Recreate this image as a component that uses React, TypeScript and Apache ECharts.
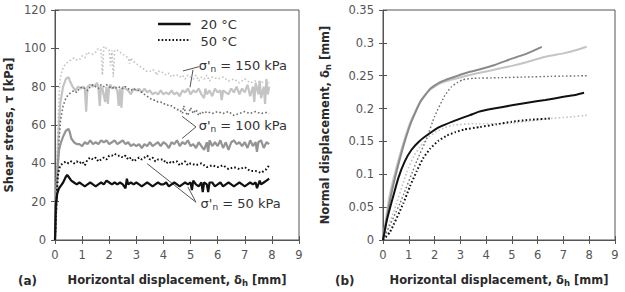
import React, { useEffect, useRef } from "react";
import * as echarts from "echarts";

// ---- (a) shear stress vs horizontal displacement: [δh mm, τ kPa] ----
const tau150_20: number[][] = [
  [0, 0], [0.05, 20], [0.1, 45], [0.15, 62], [0.2, 72], [0.3, 80], [0.4, 84], [0.5, 85], [0.55, 83], [0.65, 80],
  [0.75, 78], [0.85, 80], [0.95, 79], [1.05, 80], [1.1, 79], [1.15, 67], [1.2, 80], [1.3, 81], [1.4, 80], [1.5, 81],
  [1.55, 82], [1.6, 80], [1.65, 70], [1.7, 80], [1.75, 79], [1.85, 72], [1.9, 80], [1.95, 71], [2.0, 80], [2.05, 81],
  [2.1, 79], [2.2, 80], [2.3, 78], [2.35, 70], [2.4, 79], [2.45, 69], [2.5, 80], [2.6, 79], [2.7, 78], [2.8, 76],
  [2.9, 79], [3.0, 78], [3.1, 79], [3.2, 77], [3.3, 79], [3.4, 77], [3.5, 78], [3.6, 76], [3.7, 77], [3.8, 76],
  [3.9, 78], [4.0, 76], [4.1, 77], [4.2, 76], [4.3, 78], [4.4, 76], [4.5, 77], [4.6, 75], [4.7, 78], [4.8, 77],
  [4.9, 79], [5.0, 76], [5.1, 78], [5.2, 77], [5.3, 79], [5.4, 76], [5.5, 74], [5.55, 79], [5.6, 76], [5.7, 78],
  [5.8, 75], [5.9, 79], [6.0, 77], [6.1, 78], [6.15, 73], [6.2, 78], [6.3, 77], [6.4, 76], [6.5, 79], [6.6, 77],
  [6.7, 80], [6.8, 76], [6.9, 79], [7.0, 77], [7.1, 81], [7.2, 75], [7.3, 80], [7.35, 72], [7.4, 82], [7.5, 76],
  [7.55, 83], [7.6, 74], [7.7, 80], [7.75, 71], [7.8, 84], [7.85, 76], [7.9, 80],
];
const tau150_50: number[][] = [
  [0, 0], [0.05, 30], [0.1, 55], [0.15, 75], [0.2, 85], [0.3, 90], [0.4, 92], [0.5, 93], [0.6, 94], [0.7, 95],
  [0.8, 94], [0.9, 94], [1.0, 96], [1.1, 95], [1.2, 98], [1.3, 97], [1.4, 97], [1.5, 98], [1.6, 100], [1.7, 99],
  [1.75, 86], [1.8, 101], [1.9, 100], [2.0, 99], [2.05, 91], [2.1, 99], [2.15, 85], [2.2, 99], [2.3, 99], [2.4, 98],
  [2.5, 97], [2.6, 96], [2.7, 95], [2.75, 92], [2.8, 95], [2.9, 93], [3.0, 92], [3.1, 91], [3.2, 90], [3.3, 89],
  [3.4, 88], [3.5, 88], [3.6, 89], [3.7, 88], [3.75, 86], [3.8, 88], [3.9, 88], [4.0, 87], [4.1, 86], [4.2, 87],
  [4.3, 85], [4.4, 86], [4.5, 86], [4.6, 85], [4.7, 86], [4.8, 84], [4.9, 86], [5.0, 85], [5.1, 84], [5.2, 86],
  [5.3, 83], [5.4, 85], [5.5, 84], [5.6, 86], [5.7, 83], [5.8, 85], [6.0, 84], [6.2, 85], [6.4, 83], [6.6, 84],
  [6.8, 82], [7.0, 84], [7.2, 82], [7.4, 83], [7.6, 82], [7.8, 83], [7.9, 82],
];
const tau100_50: number[][] = [
  [0, 0], [0.05, 15], [0.1, 35], [0.15, 52], [0.2, 62], [0.3, 70], [0.4, 74], [0.5, 76], [0.6, 77], [0.7, 78],
  [0.8, 77], [0.9, 79], [1.0, 80], [1.1, 79], [1.2, 78], [1.3, 80], [1.4, 81], [1.5, 80], [1.6, 79], [1.7, 81],
  [1.8, 80], [1.9, 81], [2.0, 80], [2.1, 79], [2.2, 80], [2.3, 79], [2.4, 80], [2.5, 79], [2.6, 80], [2.7, 79],
  [2.8, 78], [2.9, 79], [3.0, 78], [3.1, 78], [3.2, 77], [3.3, 76], [3.4, 75], [3.5, 74], [3.6, 73], [3.7, 73],
  [3.8, 72], [3.9, 72], [4.0, 71], [4.1, 71], [4.2, 70], [4.3, 70], [4.4, 69], [4.5, 68], [4.6, 68], [4.7, 66],
  [4.75, 70], [4.8, 67], [4.9, 65], [5.0, 69], [5.1, 66], [5.2, 68], [5.3, 65], [5.4, 67], [5.5, 66], [5.6, 67],
  [5.8, 66], [6.0, 67], [6.2, 66], [6.4, 67], [6.6, 65], [6.8, 66], [7.0, 67], [7.2, 66], [7.4, 67], [7.6, 66],
  [7.8, 66.5], [7.9, 66],
];
const tau100_20: number[][] = [
  [0, 0], [0.05, 20], [0.1, 38], [0.15, 47], [0.2, 50], [0.3, 54], [0.4, 57], [0.5, 58], [0.55, 56], [0.6, 53],
  [0.7, 51], [0.8, 50], [0.9, 50], [1.0, 49], [1.1, 51], [1.2, 50], [1.3, 52], [1.4, 50], [1.5, 51], [1.6, 50],
  [1.7, 52], [1.8, 51], [1.9, 52], [2.0, 50], [2.1, 51], [2.2, 52], [2.3, 50], [2.4, 51], [2.5, 52], [2.6, 50],
  [2.7, 51], [2.8, 49], [2.9, 50], [3.0, 49], [3.1, 50], [3.2, 48], [3.3, 50], [3.4, 49], [3.5, 51], [3.6, 49],
  [3.7, 50], [3.8, 51], [3.9, 49], [4.0, 51], [4.1, 50], [4.2, 48], [4.3, 51], [4.4, 50], [4.5, 52], [4.6, 49],
  [4.7, 51], [4.8, 50], [4.9, 52], [5.0, 49], [5.1, 50], [5.2, 48], [5.3, 51], [5.4, 49], [5.5, 47], [5.6, 51],
  [5.65, 46], [5.7, 52], [5.8, 49], [5.9, 51], [6.0, 49], [6.1, 52], [6.2, 48], [6.3, 51], [6.4, 47], [6.5, 51],
  [6.6, 52], [6.7, 50], [6.8, 51], [6.9, 49], [7.0, 51], [7.1, 48], [7.2, 52], [7.3, 49], [7.4, 51], [7.45, 46],
  [7.5, 51], [7.6, 52], [7.7, 48], [7.8, 51], [7.9, 50],
];
const tau50_50: number[][] = [
  [0, 0], [0.05, 20], [0.1, 33], [0.15, 37], [0.2, 39], [0.3, 40], [0.4, 41], [0.5, 40], [0.6, 41], [0.7, 40],
  [0.8, 41], [0.9, 40], [1.0, 41], [1.1, 39], [1.2, 42], [1.3, 43], [1.4, 42], [1.5, 43], [1.6, 41], [1.7, 42],
  [1.8, 43], [1.9, 42], [2.0, 44], [2.1, 44], [2.2, 45], [2.3, 44], [2.4, 44], [2.5, 43], [2.6, 44], [2.7, 42],
  [2.8, 43], [2.9, 41], [3.0, 42], [3.1, 43], [3.2, 42], [3.3, 43], [3.4, 44], [3.5, 42], [3.6, 43], [3.7, 41],
  [3.8, 42], [3.9, 42], [4.0, 42], [4.1, 40], [4.2, 41], [4.3, 40], [4.4, 41], [4.5, 41], [4.6, 39], [4.7, 40],
  [4.8, 41], [4.9, 39], [5.0, 40], [5.2, 39], [5.4, 40], [5.6, 38], [5.8, 39], [6.0, 38], [6.2, 39], [6.4, 37],
  [6.6, 38], [6.8, 37], [7.0, 38], [7.2, 36], [7.4, 36], [7.6, 35], [7.7, 36], [7.8, 37], [7.9, 39],
];
const tau50_20: number[][] = [
  [0, 0], [0.03, 18], [0.08, 24], [0.15, 27], [0.2, 28], [0.3, 30], [0.4, 33], [0.45, 34], [0.5, 33], [0.6, 31],
  [0.7, 30], [0.8, 29], [0.9, 30], [1.0, 29], [1.1, 28], [1.2, 29], [1.3, 30], [1.4, 29], [1.5, 28], [1.6, 29],
  [1.7, 30], [1.8, 29], [1.9, 31], [2.0, 30], [2.1, 29], [2.2, 30], [2.3, 29], [2.4, 30], [2.5, 29], [2.6, 27],
  [2.65, 32], [2.7, 29], [2.8, 30], [2.9, 29], [3.0, 30], [3.1, 29], [3.2, 28], [3.3, 29], [3.4, 30], [3.5, 29],
  [3.6, 28], [3.7, 29], [3.8, 30], [3.9, 29], [4.0, 29], [4.1, 30], [4.2, 28], [4.3, 29], [4.4, 30], [4.5, 29],
  [4.6, 28], [4.7, 29], [4.8, 30], [4.9, 29], [5.0, 30], [5.05, 26], [5.1, 31], [5.2, 29], [5.3, 28], [5.4, 30],
  [5.45, 25], [5.5, 30], [5.6, 29], [5.65, 25], [5.7, 30], [5.8, 30], [5.9, 28], [6.0, 29], [6.1, 30], [6.2, 28],
  [6.3, 29], [6.4, 30], [6.5, 29], [6.6, 28], [6.7, 29], [6.8, 30], [6.9, 29], [7.0, 28], [7.1, 29], [7.2, 30],
  [7.3, 29], [7.4, 30], [7.45, 27], [7.55, 31], [7.6, 29], [7.7, 30], [7.8, 31], [7.9, 32],
];

// ---- (b) normal displacement vs horizontal displacement: [δh mm, δn mm] ----
const dn150_20: number[][] = [
  [0, 0], [0.25, 0.066], [0.66, 0.13], [1.05, 0.178], [1.44, 0.21], [1.83, 0.229], [2.2, 0.238], [2.67, 0.244],
  [3.37, 0.251], [3.7, 0.254], [4.3, 0.259], [5.0, 0.265], [5.6, 0.271], [6.3, 0.279], [7.0, 0.284], [7.5, 0.289],
  [7.9, 0.294],
];
const dn100_20: number[][] = [
  [0, 0], [0.3, 0.066], [0.7, 0.13], [1.08, 0.178], [1.46, 0.211], [1.83, 0.23], [2.2, 0.24], [2.67, 0.247],
  [3.37, 0.256], [3.7, 0.259], [4.3, 0.266], [5.0, 0.276], [5.6, 0.284], [6.16, 0.294],
];
const dn50_20: number[][] = [
  [0, 0], [0.15, 0.03], [0.35, 0.06], [0.6, 0.095], [0.85, 0.12], [1.1, 0.137], [1.4, 0.15], [1.8, 0.162],
  [2.2, 0.172], [2.74, 0.181], [3.37, 0.19], [3.7, 0.195], [4.3, 0.2], [5.0, 0.205], [5.6, 0.209], [6.3, 0.213],
  [7.0, 0.218], [7.5, 0.221], [7.8, 0.224],
];
const dn150_50: number[][] = [
  [0, 0], [0.4, 0.041], [0.92, 0.103], [1.2, 0.128], [1.44, 0.142], [1.75, 0.156], [2.08, 0.165], [2.4, 0.171],
  [2.74, 0.175], [3.5, 0.177], [4.5, 0.177], [5.0, 0.178], [5.7, 0.181], [6.5, 0.185], [7.2, 0.187], [7.95, 0.19],
];
const dn100_50: number[][] = [
  [0, 0], [0.66, 0.056], [1.31, 0.12], [1.7, 0.155], [2.0, 0.188], [2.4, 0.22], [2.65, 0.233], [2.9, 0.24],
  [3.1, 0.244], [3.5, 0.246], [4.5, 0.247], [5.5, 0.248], [6.5, 0.249], [7.9, 0.25],
];
const dn50_50: number[][] = [
  [0, 0], [0.27, 0.012], [0.79, 0.056], [1.05, 0.082], [1.31, 0.105], [1.55, 0.124], [1.83, 0.139], [2.15, 0.151],
  [2.48, 0.159], [2.8, 0.164], [3.13, 0.168], [3.76, 0.172], [4.4, 0.176], [5.0, 0.18], [5.7, 0.183], [6.47, 0.185],
];

// axis ranges and labels
const xTicks = [0, 9, 1];
const tauTicks = [0, 120, 20];
const dnTicks = [0, 0.35, 0.05];
const legendLabels = ["20 °C", "50 °C"];
const stressLabels = ["150", "100", "50"];

const FONT = "DejaVu Sans";
const AXIS = "#555";
const LABEL = "#555";

const C150 = "#c4c4c4";
const C100 = "#949494";
const C100D = "#6e6e6e";
const C50 = "#111";

function titleRich(size: number) {
  return {
    t: { fontFamily: FONT, fontWeight: "bold", fontSize: size, color: "#2a2a2a" },
    s: { fontFamily: FONT, fontWeight: "bold", fontSize: size - 3, color: "#2a2a2a", padding: [6, 0, 0, 0] },
  };
}

function xAxisPair(grid: number) {
  const base = {
    type: "value",
    gridIndex: grid,
    min: xTicks[0],
    max: xTicks[1],
    interval: xTicks[2],
    position: "bottom",
    splitLine: { show: false },
  };
  return [
    {
      ...base,
      name: "{t|Horizontal displacement, δ}{s|h}{t| [mm]}",
      nameLocation: "middle",
      nameGap: 32,
      nameTextStyle: { rich: titleRich(11.5) },
      axisLine: { lineStyle: { color: AXIS, width: 1 } },
      axisTick: { show: true, inside: false, length: 4, lineStyle: { color: AXIS } },
      axisLabel: { fontFamily: FONT, fontSize: 11.5, color: LABEL, margin: 9 },
    },
    {
      ...base,
      axisLine: { show: false },
      axisTick: { show: true, inside: true, length: 4, lineStyle: { color: AXIS } },
      axisLabel: { show: false },
    },
  ];
}

function yAxisPair(grid: number, t: number[], name: string, gap: number) {
  const base = {
    type: "value",
    gridIndex: grid,
    min: t[0],
    max: t[1],
    interval: t[2],
    position: "left",
    splitLine: { show: false },
  };
  return [
    {
      ...base,
      name,
      nameLocation: "middle",
      nameGap: gap,
      nameTextStyle: { rich: titleRich(11.5) },
      axisLine: { lineStyle: { color: AXIS, width: 1 } },
      axisTick: { show: true, inside: false, length: 4, lineStyle: { color: AXIS } },
      axisLabel: { fontFamily: FONT, fontSize: 11.5, color: LABEL, margin: 9 },
    },
    {
      ...base,
      axisLine: { show: false },
      axisTick: { show: true, inside: true, length: 4, lineStyle: { color: AXIS } },
      axisLabel: { show: false },
    },
  ];
}

function line(data: number[][], grid: number, color: string, dotted: boolean, width: number, smooth: number | boolean = false) {
  return {
    type: "line",
    xAxisIndex: grid * 2,
    yAxisIndex: grid * 2,
    data,
    showSymbol: false,
    smooth,
    lineStyle: { color, width, type: dotted ? [1.6, 2.2] : "solid" },
    silent: true,
  };
}

// leader lines and labels for the stress annotations, in (a) data units
const labelAnchors = [
  { text: stressLabels[0], at: [5.3, 91], segs: [[[4.72, 88.2], [5.31, 90.4]], [[5.09, 88.8], [4.98, 79.7]]] },
  { text: stressLabels[1], at: [5.3, 59.5], segs: [[[4.69, 64.5], [5.2, 59]], [[5.2, 59], [4.69, 53]]] },
  { text: stressLabels[2], at: [5.37, 19.2], segs: [[[3.4, 39.8], [5.2, 19.7]], [[4.9, 27.7], [5.2, 19.7]]] },
];

export default function App() {
  const ref = useRef<HTMLDivElement>(null);

  useEffect(() => {
    if (!ref.current) return;
    const chart = echarts.init(ref.current, null, { renderer: "svg" });
    const grids = [
      { left: 55, top: 10, width: 244, height: 238, show: true, borderColor: AXIS, borderWidth: 1 },
      { left: 383, top: 10, width: 232, height: 238, show: true, borderColor: AXIS, borderWidth: 1 },
    ];
    chart.setOption({
      animation: false,
      grid: grids,
      xAxis: [...xAxisPair(0), ...xAxisPair(1)],
      yAxis: [
        ...yAxisPair(0, tauTicks, "{t|Shear stress, τ [kPa]}", 40),
        ...yAxisPair(1, dnTicks, "{t|Normal displacement, δ}{s|n}{t| [mm]}", 51),
      ],
      series: [
        line(tau150_50, 0, C150, true, 1.6),
        line(tau150_20, 0, C150, false, 2.2),
        line(tau100_50, 0, C100D, true, 1.6),
        line(tau100_20, 0, C100, false, 2.2),
        line(tau50_50, 0, C50, true, 2),
        line(tau50_20, 0, C50, false, 2.2),
        line(dn150_50, 1, C150, true, 1.6, 0.15),
        line(dn50_50, 1, C50, true, 2, 0.15),
        line(dn100_50, 1, C100D, true, 1.4, 0.15),
        line(dn150_20, 1, C150, false, 2, 0.15),
        line(dn100_20, 1, "#8a8a8a", false, 2, 0.15),
        line(dn50_20, 1, C50, false, 2, 0.15),
      ],
    });

    const px = (p: number[]) => chart.convertToPixel({ xAxisIndex: 0, yAxisIndex: 0 }, p) as number[];
    const textStyle = { fontFamily: FONT, fontSize: 13, fill: "#333" };
    const graphic: any[] = [];

    // legend
    const lx0 = px([3.8, 0])[0];
    const lx1 = px([5.0, 0])[0];
    graphic.push(
      { type: "line", shape: { x1: lx0, y1: 24, x2: lx1, y2: 24 }, style: { stroke: "#111", lineWidth: 2.5 } },
      { type: "line", shape: { x1: lx0, y1: 40, x2: lx1, y2: 40 }, style: { stroke: "#111", lineWidth: 2, lineDash: [1.6, 2] } },
      { type: "text", x: lx1 + 10, y: 24, style: { ...textStyle, text: legendLabels[0], verticalAlign: "middle" } },
      { type: "text", x: lx1 + 10, y: 41, style: { ...textStyle, text: legendLabels[1], verticalAlign: "middle" } },
    );

    // stress annotations
    for (const a of labelAnchors) {
      for (const s of a.segs) {
        const p1 = px(s[0]);
        const p2 = px(s[1]);
        graphic.push({ type: "line", shape: { x1: p1[0], y1: p1[1], x2: p2[0], y2: p2[1] }, style: { stroke: "#555", lineWidth: 1 } });
      }
      const p = px(a.at);
      graphic.push({
        type: "text",
        x: p[0],
        y: p[1],
        style: {
          text: `σ'{s|n} = ${a.text} kPa`,
          ...textStyle,
          verticalAlign: "middle",
          rich: { s: { fontFamily: FONT, fontSize: 9, fill: "#333", padding: [7, 0, 0, 0] } },
        },
      });
    }

    // panel tags
    const tag = { fontFamily: FONT, fontSize: 12, fontWeight: "bold", fill: "#2a2a2a", verticalAlign: "middle" };
    graphic.push(
      { type: "text", x: 18, y: 281, style: { ...tag, text: "(a)" } },
      { type: "text", x: 335, y: 281, style: { ...tag, text: "(b)" } },
    );

    chart.setOption({ graphic });
    return () => chart.dispose();
  }, []);

  return <div ref={ref} style={{ width: 625, height: 292, position: "absolute", left: 0, top: 0 }} />;
}
